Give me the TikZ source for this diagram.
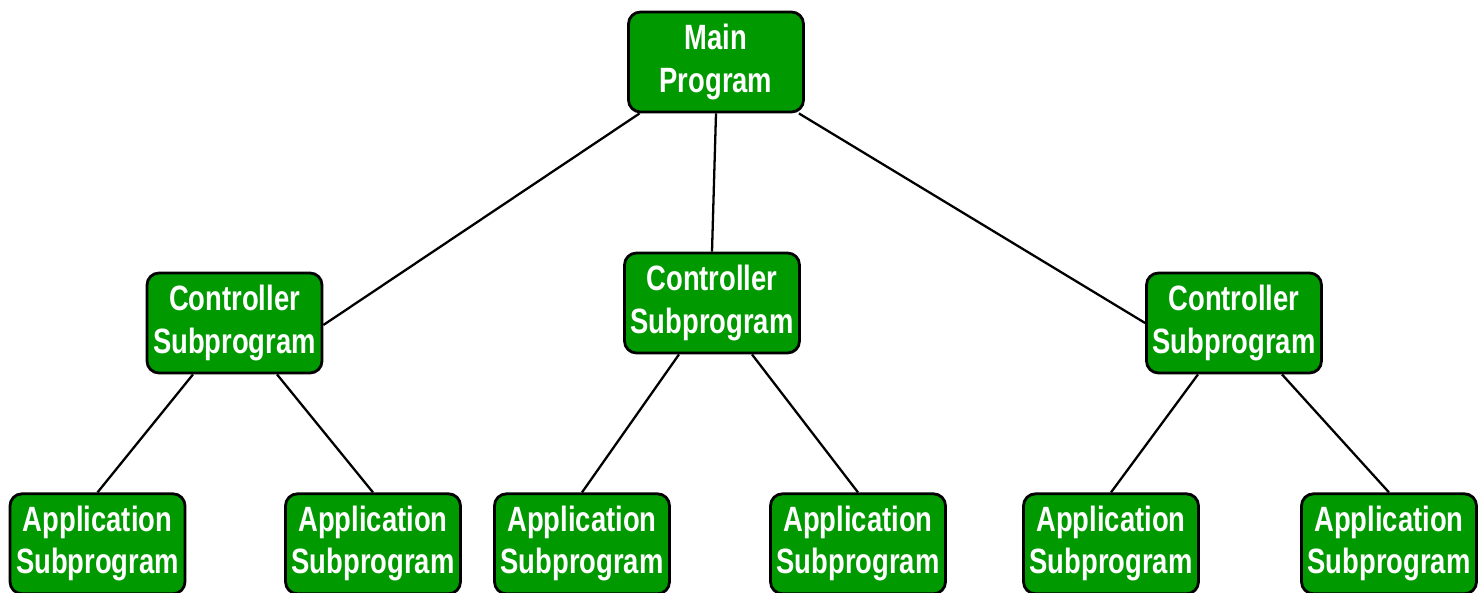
\documentclass[tikz,border=0pt]{standalone}
\usepackage{fontspec}
\setmainfont{Liberation Sans}[FakeStretch=0.78]
\usetikzlibrary{positioning}

\definecolor{boxgreen}{RGB}{0,153,0}

\tikzset{
  prog/.style={draw=black, line width=1.6pt, fill=boxgreen, rounded corners=0.24cm,
    minimum width=3.5cm, minimum height=2cm, inner sep=1pt, align=center,
    text=white, font=\fontsize{20}{24}\selectfont\bfseries},
  link/.style={line width=1.3pt}
}

\begin{document}
\begin{tikzpicture}[node distance=2.36cm]

\useasboundingbox (0,0) rectangle (29.66,-11.86);

\node (main) [prog] at (14.32,-1.24) {Main\\Program};

\node (c1) [prog] at (4.69,-6.46) {Controller\\Subprogram};
\node (c2) [prog] at (14.24,-6.06) {Controller\\Subprogram};
\node (c3) [prog] at (24.68,-6.46) {Controller\\Subprogram};

\node (a1) [prog, below=of c1, xshift=-2.74cm] {Application\\Subprogram};
\node (a2) [prog, below=of c1, xshift=2.77cm] {Application\\Subprogram};
\node (a3) [prog, below=of c2, xshift=-2.6cm, yshift=-0.4cm] {Application\\Subprogram};
\node (a4) [prog, below=of c2, xshift=2.92cm, yshift=-0.4cm] {Application\\Subprogram};
\node (a5) [prog, below=of c3, xshift=-2.46cm] {Application\\Subprogram};
\node (a6) [prog, below=of c3, xshift=3.1cm] {Application\\Subprogram};

\draw[link] ([xshift=0.25cm]main.south west) -- ([yshift=-0.04cm]c1.east);
\draw[link] (main.south) -- (c2.north);
\draw[link] ([xshift=-0.12cm]main.south east) -- (c3.west);

\draw[link] ([xshift=-0.83cm]c1.south) -- (a1.north);
\draw[link] ([xshift=0.85cm]c1.south) -- (a2.north);
\draw[link] ([xshift=-0.66cm]c2.south) -- (a3.north);
\draw[link] ([xshift=0.8cm]c2.south) -- (a4.north);
\draw[link] ([xshift=-0.72cm]c3.south) -- (a5.north);
\draw[link] ([xshift=0.96cm]c3.south) -- (a6.north);

\end{tikzpicture}
\end{document}
